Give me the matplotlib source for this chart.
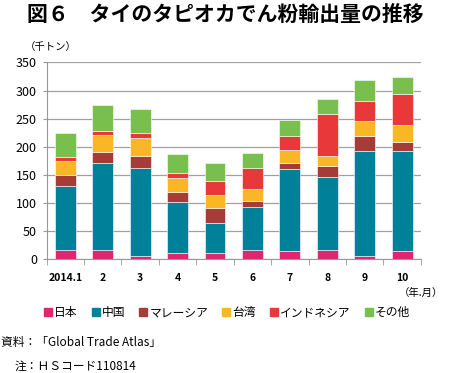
import numpy as np
import matplotlib
matplotlib.use("Agg")
import matplotlib.pyplot as plt
from matplotlib.lines import Line2D

plt.rcParams['font.family'] = ['Noto Sans CJK JP', 'DejaVu Sans']

months = ['2014.1', '2', '3', '4', '5', '6', '7', '8', '9', '10']
series_names = ['日本', '中国', 'マレーシア', '台湾', 'インドネシア', 'その他']
japan = [16, 16, 6, 12, 12, 16, 15, 16, 6, 14]
china = [115, 156, 156, 89, 53, 77, 145, 130, 186, 178]
malaysia = [18, 19, 22, 18, 26, 10, 11, 19, 27, 16]
taiwan = [26, 30, 32, 25, 23, 22, 24, 19, 26, 30]
indonesia = [6, 7, 8, 9, 26, 38, 25, 74, 37, 55]
other = [43, 47, 43, 35, 31, 26, 28, 27, 37, 31]
colors = ['#e0266e', '#00819a', '#a63c38', '#f9b625', '#e8383a', '#78bf4e']

fig = plt.figure(figsize=(4.5, 3.73), dpi=100)
ax = fig.add_axes([0.1037, 0.3048, 0.8313, 0.528])

x = np.arange(len(months))
bottom = np.zeros(len(months))
for vals, c in zip([japan, china, malaysia, taiwan, indonesia, other], colors):
    ax.bar(x, vals, 0.56, bottom=bottom, color=c, edgecolor='#ffffff',
           linewidth=0.4, zorder=3)
    bottom += np.array(vals)

ax.set_xlim(-0.5, len(months) - 0.5)
ax.set_ylim(0, 350)
ax.set_yticks(range(0, 351, 50))
ax.tick_params(axis='y', labelsize=9, length=3, color='#999999', pad=4)
ax.grid(axis='y', color='#a0a0a0', linewidth=0.9, zorder=0)
ax.set_xticks(x)
ax.set_xticklabels(months, fontsize=7.5, fontweight='bold')
ax.tick_params(axis='x', length=0, pad=10)
ax.set_xticks(np.arange(-0.5, len(months)), minor=True)
ax.tick_params(axis='x', which='minor', length=4, color='#999999')
for s in ['top', 'right']:
    ax.spines[s].set_visible(False)
ax.spines['left'].set_color('#999999')
ax.spines['bottom'].set_color('#999999')

fig.text(0.5, 0.962, '図６　タイのタピオカでん粉輸出量の推移', ha='center', va='center',
         fontsize=15, fontweight='bold')
fig.text(0.055, 0.873, '（千トン）', ha='left', va='center', fontsize=7.5)
fig.text(0.985, 0.215, '（年.月）', ha='right', va='center', fontsize=7.5)

handles = [Line2D([], [], marker='s', linestyle='', markersize=5.5, color=c) for c in colors]
fig.legend(handles, series_names, loc='center', bbox_to_anchor=(0.505, 0.162), ncol=6,
           frameon=False, fontsize=8.5, handlelength=0.6, handletextpad=0.2,
           columnspacing=1.25)

fig.text(0.003, 0.083, '資料：「Global Trade Atlas」', ha='left', va='center', fontsize=8.5)
fig.text(0.033, 0.018, '注：ＨＳコード110814', ha='left', va='center', fontsize=8.5)

fig.savefig('out.png', dpi=100)
